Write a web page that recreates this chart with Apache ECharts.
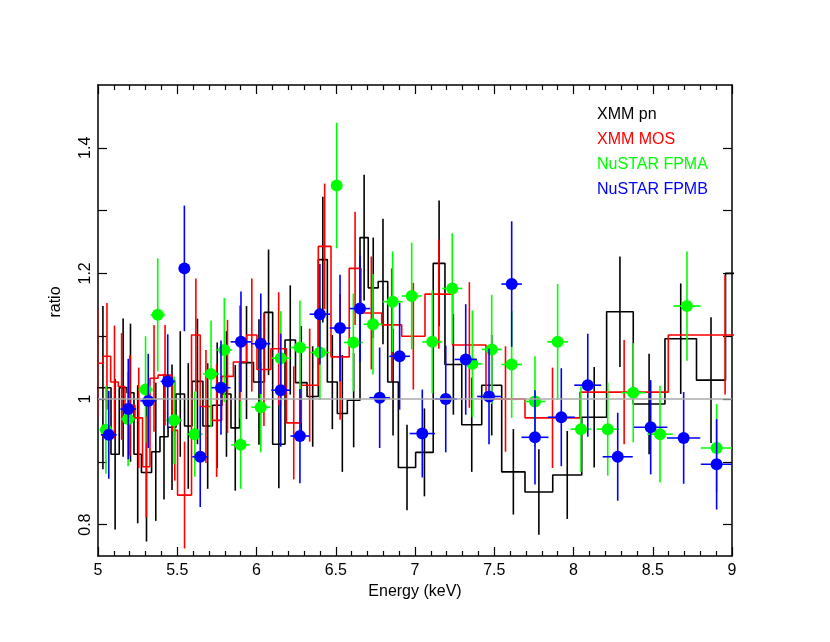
<!DOCTYPE html>
<html>
<head>
<meta charset="utf-8">
<script src="https://cdn.jsdelivr.net/npm/echarts@6/dist/echarts.min.js"></script>
<style>
  html, body { margin: 0; padding: 0; background: #fff; }
  #chart { width: 830px; height: 642px; }
</style>
</head>
<body>
<div id="chart"></div>
<script>
// XMM pn - histogram bins (keV edges), ratio, 1-sigma error
const pnEdges = [4.98, 5.082, 5.134, 5.183, 5.227, 5.274, 5.338, 5.391, 5.442, 5.492, 5.546, 5.593, 5.662, 5.722,
    5.782, 5.839, 5.893, 5.981, 6.05, 6.102, 6.18, 6.246, 6.319, 6.39, 6.447, 6.51, 6.573, 6.653, 6.705, 6.768,
    6.828, 6.895, 7.004, 7.115, 7.189, 7.295, 7.421, 7.547, 7.694, 7.869, 8.052, 8.209, 8.377, 8.577, 8.776, 8.959, 9.18];
const pnRatio = [1.018, 0.912, 1.018, 1.01, 0.912, 0.883, 0.916, 0.94, 0.955, 1.008, 0.957, 1.028, 0.957, 0.99,
    1.008, 0.954, 1.058, 1.027, 1.138, 0.928, 1.094, 1.026, 1.004, 1.222, 1.027, 0.977, 0.998, 1.257, 1.177, 1.187,
    1.027, 0.891, 0.915, 1.216, 1.055, 0.959, 1.022, 0.884, 0.852, 0.879, 0.971, 1.139, 0.992, 1.096, 1.03, 1.2];
const pnErr = [0.13, 0.12, 0.11, 0.11, 0.11, 0.11, 0.11, 0.1, 0.1, 0.1, 0.1, 0.1, 0.1, 0.1,
    0.1, 0.1, 0.09, 0.1, 0.1, 0.07, 0.087, 0.09, 0.08, 0.1, 0.075, 0.093, 0.075, 0.1, 0.08, 0.1,
    0.085, 0.068, 0.07, 0.1, 0.08, 0.075, 0.08, 0.068, 0.068, 0.07, 0.08, 0.088, 0.08, 0.088, 0.1, 0.1];

// XMM MOS
const mosEdges = [4.962, 5.033, 5.08, 5.128, 5.17, 5.233, 5.281, 5.328, 5.379, 5.467, 5.502, 5.59, 5.645, 5.717,
    5.78, 5.854, 5.938, 6.003, 6.091, 6.189, 6.281, 6.39, 6.47, 6.585, 6.659, 6.79, 6.916, 7.063, 7.238, 7.448,
    7.694, 8.041, 8.598, 9.315];
const mosRatio = [1.057, 1.068, 1.027, 1.02, 0.99, 0.97, 0.892, 1.033, 1.038, 0.95, 0.847, 1.102, 0.988, 0.966,
    1.036, 1.059, 1.102, 1.047, 1.08, 0.962, 1.022, 1.243, 1.067, 1.208, 1.137, 1.118, 1.1, 1.167, 1.086, 1.0,
    0.97, 1.011, 1.102];
const mosErr = [0.085, 0.085, 0.09, 0.085, 0.08, 0.08, 0.08, 0.085, 0.08, 0.08, 0.085, 0.09, 0.09, 0.09,
    0.09, 0.09, 0.09, 0.09, 0.09, 0.09, 0.09, 0.1, 0.1, 0.09, 0.09, 0.09, 0.085, 0.087, 0.1, 0.084,
    0.08, 0.083, 0.095];

// NuSTAR FPMA
const fpmaE = [5.05, 5.19, 5.30, 5.377, 5.48, 5.61, 5.713, 5.797, 5.90, 6.027, 6.153, 6.274, 6.40, 6.506, 6.611,
    6.735, 6.859, 6.979, 7.109, 7.235, 7.362, 7.484, 7.61, 7.757, 7.90, 8.047, 8.216, 8.377, 8.546, 8.716, 8.903];
const fpmaEerr = [0.04, 0.045, 0.045, 0.045, 0.05, 0.05, 0.05, 0.05, 0.06, 0.06, 0.06, 0.06, 0.06, 0.034, 0.06,
    0.06, 0.063, 0.063, 0.063, 0.063, 0.063, 0.063, 0.065, 0.065, 0.066, 0.066, 0.07, 0.075, 0.08, 0.086, 0.1];
const fpmaRatio = [0.951, 0.968, 1.015, 1.134, 0.966, 0.944, 1.040, 1.078, 0.927, 0.987, 1.065, 1.082, 1.074, 1.340,
    1.090, 1.119, 1.155, 1.164, 1.091, 1.176, 1.056, 1.079, 1.055, 0.996, 1.091, 0.952, 0.952, 1.010, 0.944, 1.148, 0.922];
const fpmaErr = [0.07, 0.075, 0.085, 0.09, 0.07, 0.068, 0.085, 0.083, 0.07, 0.072, 0.075, 0.075, 0.075, 0.1, 0.078,
    0.08, 0.08, 0.085, 0.082, 0.088, 0.085, 0.087, 0.085, 0.072, 0.092, 0.068, 0.074, 0.079, 0.077, 0.087, 0.07];

// NuSTAR FPMB
const fpmbE = [5.068, 5.191, 5.317, 5.44, 5.545, 5.645, 5.776, 5.902, 6.027, 6.153, 6.274, 6.40, 6.527, 6.653,
    6.777, 6.903, 7.046, 7.194, 7.32, 7.467, 7.61, 7.757, 7.923, 8.09, 8.279, 8.487, 8.695, 8.903];
const fpmbEerr = [0.05, 0.05, 0.05, 0.045, 0.035, 0.05, 0.06, 0.065, 0.06, 0.06, 0.06, 0.065, 0.065, 0.065,
    0.065, 0.065, 0.08, 0.07, 0.07, 0.075, 0.065, 0.085, 0.085, 0.085, 0.095, 0.105, 0.105, 0.1];
const fpmbRatio = [0.943, 0.984, 0.997, 1.028, 1.208, 0.908, 1.018, 1.091, 1.088, 1.014, 0.941, 1.135, 1.113, 1.144,
    1.002, 1.068, 0.945, 1.0, 1.063, 1.004, 1.183, 0.939, 0.971, 1.022, 0.908, 0.955, 0.938, 0.896];
const fpmbErr = [0.07, 0.08, 0.075, 0.075, 0.1, 0.08, 0.075, 0.08, 0.08, 0.09, 0.075, 0.08, 0.085, 0.085,
    0.08, 0.085, 0.07, 0.085, 0.088, 0.076, 0.1, 0.075, 0.078, 0.082, 0.07, 0.075, 0.073, 0.072];

const unityLine = [[5, 1], [9, 1]];
const xTicks = { min: 5, max: 9, step: 0.5 };
const yTickValues = [0.8, 0.9, 1.0, 1.1, 1.2, 1.3, 1.4];
const yLabelValues = [0.8, 1, 1.2, 1.4];
const legendNames = ['XMM pn', 'XMM MOS', 'NuSTAR FPMA', 'NuSTAR FPMB'];
const legendColors = ['#000000', '#ff0000', '#00ff00', '#0000ff'];

const FONT = '"Liberation Sans", Arial, Helvetica, sans-serif';

function stepPoints(edges, vals) {
    const pts = [];
    vals.forEach((v, i) => {
        pts.push([edges[i], v]);
        pts.push([edges[i + 1], v]);
    });
    return pts;
}

function binBars(edges, vals, errs) {
    return vals.map((v, i) => [(edges[i] + edges[i + 1]) / 2, v, 0, errs[i]]);
}

function pointBars(e, ee, r, re) {
    return e.map((x, i) => [x, r[i], ee[i], re[i]]);
}

function errorItem(color, dot) {
    return function (params, api) {
        const x = api.value(0), y = api.value(1), xe = api.value(2), ye = api.value(3);
        const lo = api.coord([x, y - ye]);
        const hi = api.coord([x, y + ye]);
        const style = { stroke: color, lineWidth: 1.6 };
        const children = [{ type: 'line', shape: { x1: lo[0], y1: lo[1], x2: hi[0], y2: hi[1] }, style: style }];
        if (xe > 0) {
            const l = api.coord([x - xe, y]);
            const r = api.coord([x + xe, y]);
            children.push({ type: 'line', shape: { x1: l[0], y1: l[1], x2: r[0], y2: r[1] }, style: style });
        }
        if (dot) {
            const c = api.coord([x, y]);
            children.push({ type: 'circle', shape: { cx: c[0], cy: c[1], r: 6 }, style: { fill: color } });
        }
        return { type: 'group', children: children };
    };
}

function xAxisDef(pos, labels) {
    return {
        type: 'value', position: pos,
        min: xTicks.min, max: xTicks.max, interval: xTicks.step,
        axisLine: { onZero: false, lineStyle: { color: '#000', width: 1.5 } },
        axisTick: { inside: true, length: 9, lineStyle: { color: '#000', width: 1.2 } },
        minorTick: { show: true, splitNumber: 5, length: 5, lineStyle: { color: '#000', width: 1.2 } },
        splitLine: { show: false },
        axisLabel: {
            show: labels, color: '#000', fontSize: 16, fontFamily: FONT, margin: 7,
            showMinLabel: true, showMaxLabel: true
        },
        name: labels ? 'Energy (keV)' : '',
        nameLocation: 'middle', nameGap: 24,
        nameTextStyle: { color: '#000', fontSize: 16, fontFamily: FONT }
    };
}

function yAxisDef(pos, labels) {
    return {
        type: 'value', position: pos,
        min: 0.75, max: 1.5,
        axisLine: { onZero: false, lineStyle: { color: '#000', width: 1.5 } },
        axisTick: { inside: true, length: 9, customValues: yTickValues, lineStyle: { color: '#000', width: 1.2 } },
        splitLine: { show: false },
        axisLabel: {
            show: labels, customValues: yLabelValues, rotate: 90,
            color: '#000', fontSize: 16, fontFamily: FONT, margin: 4
        }
    };
}

const chart = echarts.init(document.getElementById('chart'));

const option = {
    animation: false,
    backgroundColor: '#fff',
    grid: { left: 98, right: 98, top: 85, bottom: 86, containLabel: false },
    xAxis: [xAxisDef('bottom', true), xAxisDef('top', false)],
    yAxis: [yAxisDef('left', true), yAxisDef('right', false)],
    graphic: [
        {
            type: 'text', x: 56, y: 302, rotation: Math.PI / 2,
            style: { text: 'ratio', fill: '#000', font: '16px ' + FONT, align: 'center', verticalAlign: 'middle' }
        }
    ].concat(legendNames.map((n, i) => ({
        type: 'text', x: 597, y: 115 + i * 25,
        style: { text: n, fill: legendColors[i], font: '16px ' + FONT, align: 'left', verticalAlign: 'middle' }
    }))),
    series: [
        {
            name: 'XMM pn', type: 'line', data: stepPoints(pnEdges, pnRatio),
            showSymbol: false, clip: true, z: 2,
            lineStyle: { color: '#000', width: 1.6 }
        },
        {
            type: 'custom', data: binBars(pnEdges, pnRatio, pnErr), clip: true, z: 2,
            renderItem: errorItem('#000', false)
        },
        {
            name: 'XMM MOS', type: 'line', data: stepPoints(mosEdges, mosRatio),
            showSymbol: false, clip: true, z: 3,
            lineStyle: { color: '#ff0000', width: 1.6 }
        },
        {
            type: 'custom', data: binBars(mosEdges, mosRatio, mosErr), clip: true, z: 3,
            renderItem: errorItem('#ff0000', false)
        },
        {
            name: 'NuSTAR FPMA', type: 'custom', data: pointBars(fpmaE, fpmaEerr, fpmaRatio, fpmaErr),
            clip: true, z: 4, renderItem: errorItem('#00ff00', true)
        },
        {
            name: 'NuSTAR FPMB', type: 'custom', data: pointBars(fpmbE, fpmbEerr, fpmbRatio, fpmbErr),
            clip: true, z: 5, renderItem: errorItem('#0000ff', true)
        },
        {
            type: 'line', data: unityLine, showSymbol: false, z: 6,
            lineStyle: { color: '#aaaaaa', width: 1.6 }
        }
    ]
};

chart.setOption(option);
</script>
</body>
</html>
